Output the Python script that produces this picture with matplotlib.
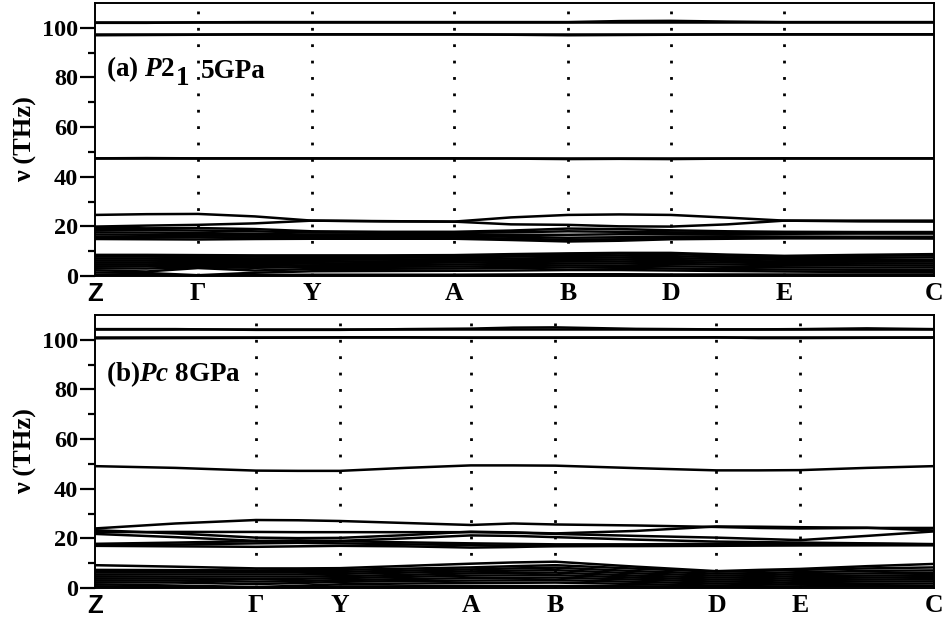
import numpy as np
import matplotlib
matplotlib.use("Agg")
import matplotlib.pyplot as plt

# ---------------- data ----------------
kpt_labels = ["Z", "Γ", "Y", "A", "B", "D", "E", "C"]
a_kpts = [0.0, 0.1228, 0.2586, 0.428, 0.564, 0.6865, 0.822, 1.0]
b_kpts = [0.0, 0.192, 0.292, 0.448, 0.549, 0.741, 0.841, 1.0]
yticks = [0, 20, 40, 60, 80, 100]

# band values sampled at: Z, mid, Γ, mid, Y, mid, A, mid, B, mid, D, mid, E, mid, C
a_high = [
    [102.3] * 15,
    [102.0, 102.0, 102.2, 102.3, 102.3, 102.3, 102.3, 102.3, 102.3, 102.7, 102.8, 102.5, 102.3, 102.3, 102.3],
    [97.4] * 15,
    [97.0, 97.1, 97.2, 97.4, 97.4, 97.4, 97.4, 97.2, 97.0, 97.1, 97.2, 97.4, 97.4, 97.4, 97.4],
    [47.4] * 15,
    [47.4, 47.5, 47.4, 47.4, 47.4, 47.4, 47.4, 47.3, 47.1, 47.2, 47.1, 47.3, 47.4, 47.4, 47.4],
]
a_mid = [
    [24.6, 24.9, 25.0, 24.0, 22.3, 22.1, 21.9, 23.6, 24.6, 24.8, 24.6, 23.5, 22.3, 22.3, 22.3],
    [19.9, 20.3, 20.6, 21.2, 22.3, 22.0, 21.9, 20.8, 20.6, 20.0, 19.9, 20.8, 22.3, 22.0, 21.9],
    [19.4, 19.2, 19.3, 18.9, 18.0, 17.8, 17.8, 18.3, 19.1, 18.9, 18.4, 18.0, 17.8, 17.7, 17.7],
    [18.6, 18.5, 18.3, 18.0, 17.5, 17.4, 17.3, 17.6, 18.0, 17.8, 17.6, 17.5, 17.4, 17.3, 17.3],
    [17.6, 17.5, 17.3, 17.0, 16.7, 16.6, 16.6, 16.6, 16.6, 16.8, 16.9, 16.9, 17.0, 17.1, 17.1],
    [16.7, 16.6, 16.5, 16.4, 16.2, 16.1, 16.0, 15.8, 15.4, 15.6, 15.9, 16.0, 15.9, 15.8, 15.8],
    [15.8, 15.7, 15.6, 15.6, 15.6, 15.5, 15.5, 15.0, 14.6, 14.8, 15.3, 15.4, 15.3, 15.3, 15.3],
    [14.9, 14.8, 14.7, 14.9, 15.0, 15.0, 15.0, 14.5, 13.9, 14.2, 14.8, 15.0, 15.2, 15.2, 15.1],
]
a_low = [
    [0.5, 0.4, 0.0, 0.4, 0.5, 0.5, 0.5, 0.6, 0.7, 0.7, 0.6, 0.6, 0.6, 0.6, 0.6],
    [1.4, 1.2, 0.3, 1.3, 1.9, 2.0, 2.1, 2.2, 2.4, 2.4, 2.2, 2.0, 1.8, 1.6, 1.5],
    [2.3, 1.8, 3.2, 2.2, 2.8, 2.9, 3.0, 3.2, 3.4, 3.3, 3.0, 2.8, 2.6, 2.5, 2.4],
    [3.1, 3.0, 3.5, 3.3, 3.6, 3.7, 3.8, 4.0, 4.2, 4.1, 3.9, 3.7, 3.5, 3.4, 3.4],
    [3.9, 3.9, 4.1, 4.0, 4.3, 4.4, 4.6, 4.8, 5.0, 5.0, 4.8, 4.6, 4.4, 4.3, 4.2],
    [4.7, 4.7, 4.8, 4.8, 5.0, 5.2, 5.4, 5.6, 5.8, 5.8, 5.6, 5.4, 5.2, 5.1, 5.0],
    [5.5, 5.5, 5.6, 5.6, 5.7, 5.9, 6.1, 6.3, 6.5, 6.6, 6.4, 6.1, 5.8, 5.8, 5.8],
    [6.3, 6.3, 6.4, 6.4, 6.5, 6.6, 6.8, 7.0, 7.3, 7.4, 7.2, 6.8, 6.5, 6.5, 6.5],
    [7.1, 7.1, 7.2, 7.1, 7.2, 7.3, 7.5, 7.8, 8.1, 8.2, 8.0, 7.5, 7.2, 7.3, 7.5],
    [7.9, 7.9, 7.9, 7.8, 7.8, 7.9, 8.0, 8.5, 8.8, 9.0, 8.8, 8.2, 7.9, 8.1, 8.3],
    [8.5, 8.5, 8.4, 8.3, 8.3, 8.3, 8.4, 8.8, 9.1, 9.3, 9.3, 8.6, 8.1, 8.5, 8.8],
]

b_high = [
    [104.3, 104.3, 104.0, 104.0, 104.0, 104.3, 104.5, 104.9, 105.0, 104.4, 104.2, 104.2, 104.3, 104.6, 104.3],
    [104.3] * 15,
    [100.6, 100.7, 100.8, 100.9, 101.0, 101.0, 100.8, 100.8, 100.8, 100.9, 101.0, 100.7, 100.7, 100.8, 100.9],
    [101.0] * 15,
    [49.1, 48.4, 47.3, 47.2, 47.2, 48.4, 49.4, 49.4, 49.3, 48.3, 47.4, 47.4, 47.5, 48.4, 49.1],
]
b_mid = [
    [24.0, 26.0, 27.4, 27.3, 27.0, 26.2, 25.4, 26.0, 25.6, 25.2, 24.6, 24.2, 24.0, 24.2, 24.2],
    [23.3, 22.0, 20.3, 20.1, 20.2, 21.3, 22.7, 22.4, 22.0, 23.0, 24.8, 24.7, 24.5, 24.3, 23.2],
    [22.5, 22.6, 22.6, 22.5, 22.5, 22.5, 22.5, 22.3, 21.8, 21.0, 20.3, 19.8, 19.3, 21.0, 22.8],
    [21.8, 20.5, 19.0, 18.8, 19.0, 20.0, 21.2, 21.0, 20.5, 19.5, 18.7, 18.5, 18.3, 18.0, 17.7],
    [17.8, 18.3, 18.9, 19.2, 18.9, 18.4, 18.0, 17.8, 17.6, 17.6, 17.8, 17.9, 18.0, 17.8, 17.6],
    [17.3, 17.5, 18.0, 18.2, 18.0, 17.6, 17.3, 17.0, 16.9, 17.1, 17.3, 17.3, 17.3, 17.4, 17.5],
    [17.0, 16.8, 16.6, 16.8, 17.0, 16.8, 16.3, 16.5, 16.9, 16.9, 17.0, 17.1, 17.2, 17.2, 17.2],
]
b_low = [
    [0.7, 0.4, 0.0, 0.3, 0.6, 0.7, 0.8, 0.8, 0.8, 0.7, 0.5, 0.6, 0.7, 0.8, 0.8],
    [1.5, 1.0, 0.4, 0.9, 1.5, 1.8, 2.0, 2.1, 2.2, 1.6, 1.0, 1.3, 1.6, 1.7, 1.8],
    [2.3, 2.2, 1.6, 2.0, 2.5, 2.8, 3.0, 3.1, 3.2, 2.5, 1.8, 2.0, 2.4, 2.6, 2.7],
    [3.1, 3.0, 2.6, 2.8, 3.2, 3.6, 4.0, 4.1, 4.2, 3.4, 2.6, 2.8, 3.2, 3.4, 3.6],
    [3.9, 3.8, 3.6, 3.7, 4.0, 4.5, 5.0, 5.1, 5.2, 4.2, 3.4, 3.6, 4.0, 4.2, 4.4],
    [4.7, 4.6, 4.6, 4.6, 4.8, 5.3, 5.9, 6.1, 6.2, 5.0, 4.2, 4.4, 4.8, 5.0, 5.2],
    [5.5, 5.5, 5.5, 5.5, 5.7, 6.2, 6.7, 7.0, 7.2, 5.9, 5.0, 5.2, 5.6, 5.9, 6.1],
    [6.4, 6.4, 6.4, 6.4, 6.5, 7.0, 7.5, 7.9, 8.2, 6.8, 5.8, 6.0, 6.4, 6.9, 7.1],
    [7.3, 7.2, 7.1, 7.2, 7.3, 7.8, 8.3, 8.8, 9.2, 7.8, 6.6, 6.9, 7.3, 7.9, 8.3],
    [9.2, 8.6, 7.9, 7.9, 8.0, 8.9, 9.8, 10.3, 10.6, 8.6, 6.8, 7.3, 7.7, 8.8, 9.7],
]

# ---------------- style ----------------
plt.rcParams["font.family"] = ["Liberation Serif", "DejaVu Serif"]
plt.rcParams["font.weight"] = "bold"
plt.rcParams["mathtext.fontset"] = "custom"
plt.rcParams["mathtext.rm"] = "Liberation Serif:bold"
plt.rcParams["mathtext.it"] = "Liberation Serif:bold:italic"
plt.rcParams["mathtext.bf"] = "Liberation Serif:bold"

fig = plt.figure(figsize=(9.45, 6.21), dpi=100)
ax_a = fig.add_axes([0.1005, 0.5556, 0.8875, 0.4396])
ax_b = fig.add_axes([0.1005, 0.0531, 0.8875, 0.4397])


def sample_positions(kpts):
    pos = []
    for i in range(len(kpts) - 1):
        pos.append(kpts[i])
        pos.append(0.5 * (kpts[i] + kpts[i + 1]))
    pos.append(kpts[-1])
    return pos


def draw_panel(ax, kpts, groups):
    xs = sample_positions(kpts)
    for grp in groups:
        for band in grp:
            ax.plot(xs, band, color="black", lw=1.8, solid_capstyle="butt")
    for k in kpts[1:-1]:
        ax.axvline(k, ymin=0.0, ymax=107.5 / 110, color="black", lw=2.0,
                   linestyle=(0, (1, 4.9)), dash_capstyle="butt", zorder=3)
    ax.set_xlim(kpts[0], kpts[-1])
    ax.set_ylim(0, 110)
    ax.set_yticks(yticks)
    ax.set_yticks([10, 30, 50, 70, 90], minor=True)
    ax.set_yticklabels([str(v) for v in yticks], fontsize=17.5, fontweight="bold")
    ax.tick_params(axis="y", which="major", length=10.5, width=1.6, direction="out", pad=1.5)
    ax.tick_params(axis="y", which="minor", length=5, width=1.6, direction="out")
    ax.set_xticks(kpts)
    ax.set_xticklabels(kpt_labels, fontsize=18.5, fontweight="bold")
    ax.tick_params(axis="x", length=0, pad=4)
    for t in ax.get_xticklabels():
        if t.get_text() == "Z":
            t.set_fontfamily("Liberation Sans")
            t.set_fontsize(18.5)
    for sp in ax.spines.values():
        sp.set_linewidth(1.4)
    ax.set_ylabel("ν (THz)", fontsize=19, fontweight="bold", labelpad=4)


draw_panel(ax_a, a_kpts, [a_high, a_mid, a_low])
draw_panel(ax_b, b_kpts, [b_high, b_mid, b_low])

# panel (a) label: "(a) P2" + lowered "1" + "5GPa"
t1 = ax_a.text(0.013, 0.733, r"(a) $\mathit{P}$2", transform=ax_a.transAxes,
               fontsize=19.5, ha="left", va="baseline")
t2 = ax_a.annotate("1", xy=(1, 0), xycoords=t1, xytext=(0.5, -5.5),
                   textcoords="offset points", fontsize=19.5, ha="left", va="bottom")
t3 = ax_a.annotate("5GPa", xy=(1, 0), xycoords=t2, xytext=(8.5, 5.5),
                   textcoords="offset points", fontsize=19.5, ha="left", va="bottom")

# panel (b) label
ax_b.text(0.013, 0.757, r"(b)$\mathit{Pc}$ 8GPa", transform=ax_b.transAxes,
          fontsize=19.5, ha="left", va="baseline")

fig.savefig("out.png", dpi=100)
